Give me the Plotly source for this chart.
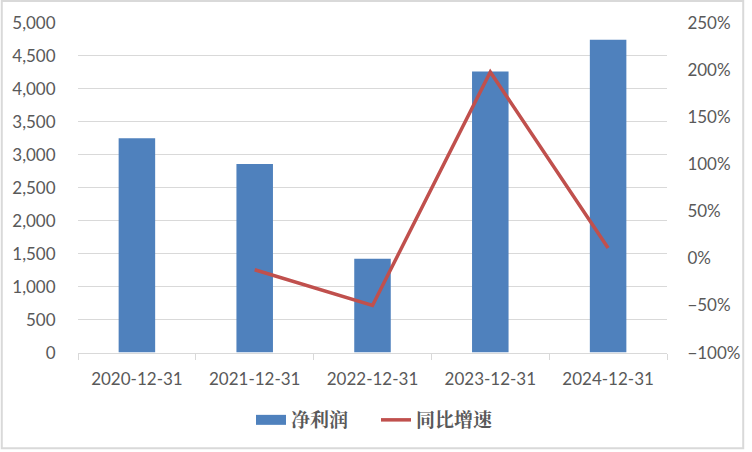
import plotly.graph_objects as go

categories = ["2020-12-31", "2021-12-31", "2022-12-31", "2023-12-31", "2024-12-31"]
net_profit = [3250, 2860, 1425, 4265, 4745]
growth_cats = ["2021-12-31", "2022-12-31", "2023-12-31", "2024-12-31"]
growth = [-0.12, -0.50, 1.98, 0.11]

W, H = 752, 452
L, R, T, B = 78, 79, 23, 98
pw, ph = W - L - R, H - T - B
BLUE, RED = "#4f81bd", "#c0504d"

fig = go.Figure()
fig.add_trace(go.Bar(x=categories, y=net_profit, name="净利润", showlegend=False,
                     marker=dict(color=BLUE, line=dict(width=0)), yaxis="y"))
# legend entry for the bars (wide rectangle swatch like the original)
fig.add_trace(go.Scatter(x=[None], y=[None], name="净利润", mode="lines",
                         line=dict(color=BLUE, width=10), yaxis="y", showlegend=True))
fig.add_trace(go.Scatter(x=growth_cats, y=growth, name="同比增速", mode="lines",
                         line=dict(color=RED, width=3.5), yaxis="y2"))

tickfont = dict(family="Lato, Liberation Sans, sans-serif", size=17, color="#595959")
fig.update_layout(
    width=W, height=H,
    margin=dict(l=L, r=R, t=T, b=B, pad=0),
    paper_bgcolor="white", plot_bgcolor="white",
    bargap=0.69,
    showlegend=True,
    legend=dict(orientation="h", x=0.5, xref="container", xanchor="center",
                y=32 / H, yref="container", yanchor="middle", entrywidth=80,
                font=dict(family="Noto Serif CJK SC, Noto Sans CJK SC, serif", size=19,
                          color="#595959", weight="bold"),
                traceorder="normal"),
    xaxis=dict(type="category", domain=[0, 1], tickfont=tickfont, showline=True,
               linecolor="#d9d9d9", linewidth=1, ticks="outside", tickson="boundaries",
               ticklen=6, tickcolor="#d9d9d9", showgrid=False, ticklabelstandoff=11,
               categoryorder="array", categoryarray=categories),
    yaxis=dict(range=[0, 5000], dtick=500, tickformat=",", tickfont=tickfont,
               gridcolor="#d9d9d9", gridwidth=1, zeroline=False, ticks="outside",
               ticklen=18, tickcolor="rgba(0,0,0,0)"),
    yaxis2=dict(range=[-1, 2.5], dtick=0.5, tickformat=".0%", tickfont=tickfont,
                overlaying="y", side="right", showgrid=False, zeroline=False,
                ticks="outside", ticklen=16, tickcolor="rgba(0,0,0,0)"),
    shapes=[dict(type="rect", xref="paper", yref="paper",
                 x0=-(L - 1) / pw, x1=1 + (R - 2) / pw, y0=-(B - 2) / ph, y1=1 + (T - 1) / ph,
                 line=dict(color="#d9d9d9", width=2), fillcolor="rgba(0,0,0,0)", layer="below")],
)

fig.write_html("out.html", config={"displayModeBar": False},
               post_script="document.body.style.margin='0';document.body.style.overflow='hidden';")
